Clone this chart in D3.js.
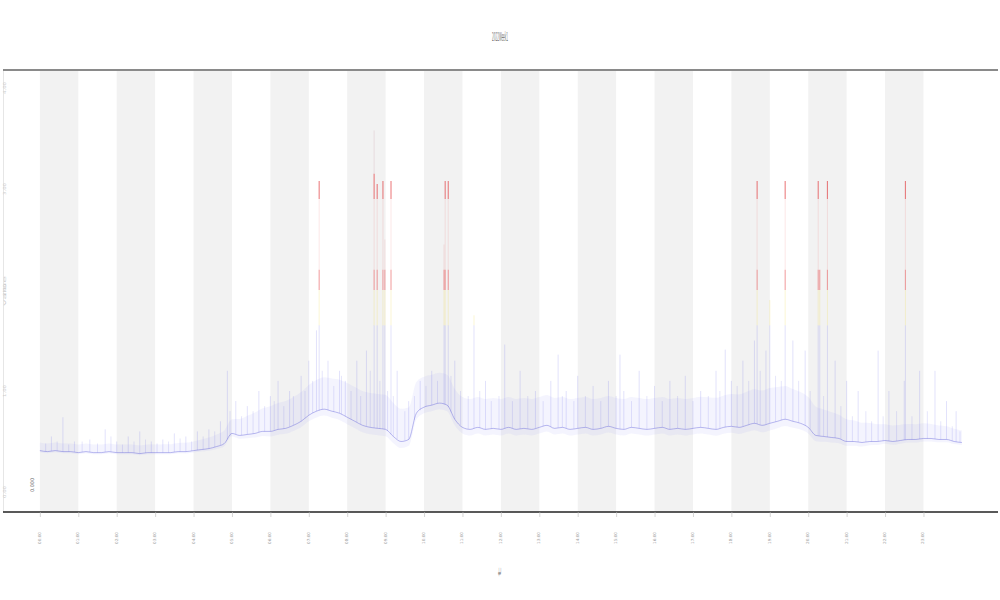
<!DOCTYPE html>
<html><head><meta charset="utf-8">
<script src="https://cdn.jsdelivr.net/npm/d3@7"></script>
<style>body{margin:0;background:#fff;}svg{display:block;}</style>
</head><body>
<script>
// ---- data ----
const titleText = "2022Week1";
const xLabel = "t";
const yLabel = "value";
const xTicks = d3.range(0, 24);
const xTickLabels = xTicks.map(d => String(d).padStart(2, "0") + ":00");
const yTicks = [0, 1, 2, 3, 4];
const bandStarts = [0, 2, 4, 6, 8, 10, 12, 14, 16, 18, 20, 22];
// baseline sampled every 0.2 from 0 to 24
const baseX = d3.range(0, 121).map(i => +(i * 0.2).toFixed(1));
const baseMid = [
  .41,.40,.41,.40,.40,.39,.40,.39,.39,.40,.39,.39,.39,.38,.39,.39,.39,.39,.40,.40,.41,.42,.43,.45,
  .48,.58,.56,.57,.58,.60,.60,.62,.63,.66,.70,.76,.80,.82,.80,.78,.74,.70,.66,.64,.63,.62,.55,.50,.52,.78,
  .84,.86,.88,.86,.72,.64,.62,.64,.62,.63,.62,.64,.62,.63,.62,.64,.66,.63,.64,.62,.63,.64,.62,.63,.65,
  .63,.62,.64,.63,.62,.63,.64,.62,.63,.62,.63,.64,.63,.62,.64,.65,.64,.66,.68,.66,.68,.70,.72,.70,.68,
  .64,.56,.55,.54,.53,.50,.50,.49,.50,.50,.51,.50,.51,.52,.52,.53,.53,.52,.52,.50,.49
];
// fuzz amplitude at each integer x (0..24)
const fuzzAmp = [.08,.08,.08,.08,.09,.14,.25,.30,.34,.34,.30,.30,.30,.30,.30,.30,.30,.30,.32,.35,.30,.22,.16,.15,.12];
// major spikes: x position and top value
const spikeX = [0.3,0.6,0.9,1.3,1.7,2.0,2.3,2.6,2.9,3.2,3.5,3.8,4.1,4.4,4.7,
  4.88,5.1,5.4,5.7,6.0,6.2,6.5,6.8,7.0,7.2,7.27,7.5,7.8,7.95,
  8.25,8.5,8.7,8.78,8.93,8.98,9.14,9.3,9.6,9.9,10.2,10.52,10.55,10.63,10.8,
  11.3,11.6,12.1,12.5,12.9,13.3,13.49,13.7,14.0,14.4,14.8,15.1,15.2,15.6,16.0,16.4,16.8,17.2,17.6,17.84,18.0,
  18.3,18.6,18.67,18.9,19.0,19.4,19.6,19.92,20.26,20.3,20.5,20.7,21.0,21.3,21.82,22.1,22.5,22.53,22.9,23.3,23.6,23.85];
const spikeTop = [.55,.74,.50,.52,.62,.50,.55,.60,.50,.52,.58,.55,.60,.62,.70,
  1.20,.90,.85,1.00,.95,1.10,1.00,1.15,1.30,1.60,3.08,1.30,1.20,1.10,
  1.30,1.40,3.58,3.05,3.08,2.50,3.08,1.20,.90,1.10,1.20,2.45,3.08,3.08,1.30,
  1.75,1.10,1.46,1.20,1.00,1.10,1.36,1.00,1.15,1.05,1.10,1.36,1.00,1.20,1.05,1.10,1.15,1.00,1.20,1.41,1.10,
  1.30,1.50,3.08,1.40,1.90,3.08,1.50,1.40,3.08,2.20,3.08,1.30,1.10,1.00,1.40,1.00,1.10,3.08,1.20,1.20,.90,.80];
// minor spikes
const minorX = [0.15,0.45,0.75,1.1,1.5,1.85,2.15,2.45,2.75,3.05,3.35,3.65,3.95,4.25,4.55,
  4.95,5.25,5.55,5.85,6.1,6.35,6.6,6.9,7.1,7.35,7.65,7.85,
  8.1,8.35,8.6,8.85,9.05,9.2,9.5,9.75,10.05,10.35,10.7,10.95,
  11.15,11.45,11.75,11.95,12.3,12.7,13.1,13.6,13.9,14.2,14.6,15.0,15.4,15.8,16.2,16.6,17.0,17.4,17.7,18.15,18.45,18.75,19.15,19.3,
  19.75,20.05,20.4,20.85,21.15,21.5,21.65,21.95,22.3,22.7,23.1,23.45,23.75,23.95];
const minorTop = [.48,.50,.47,.50,.48,.55,.47,.50,.52,.48,.50,.53,.50,.55,.60,
  .80,.75,.80,.85,.90,.85,.95,1.00,1.10,1.20,1.05,1.15,
  1.00,.95,1.20,1.10,1.00,.95,.80,.95,1.05,1.10,1.15,1.00,
  .95,1.00,.90,.95,.90,.95,.90,.95,.90,.95,.90,.95,.90,.95,.90,.95,.90,.95,1.00,1.05,1.10,1.20,1.15,1.10,
  1.10,1.00,.95,.85,.75,.80,.70,.75,.80,.75,.80,.70,.65,.60];

(function () {
const W = 1000, H = 600;
const pL = 3, pR = 998, pT = 70, pB = 512;
const x = d3.scaleLinear().domain([-0.96, 24.94]).range([pL, pR]);
const y = d3.scaleLinear().domain([(492 - 512) / 101, (492 - 70) / 101]).range([pB, pT]);

const svg = d3.select("body").append("svg").attr("width", W).attr("height", H);

svg.append("g").selectAll("rect").data(bandStarts).join("rect")
  .attr("x", d => x(d)).attr("width", d => x(d + 1) - x(d))
  .attr("y", pT).attr("height", pB - pT).attr("fill", "#f2f2f2");

svg.append("line").attr("x1", pL + 0.5).attr("x2", pL + 0.5).attr("y1", pT).attr("y2", pB)
  .attr("stroke", "#e6e6e6").attr("stroke-width", 1);

const plot = svg.append("g");

const ampAt = xv => {
  const i = Math.min(23, Math.floor(xv));
  const f = xv - i;
  return fuzzAmp[i] * (1 - f) + fuzzAmp[i + 1] * f;
};
const area = d3.area().x(d => x(d.x)).y0(d => y(d.v - ampAt(d.x) * 0.2)).y1(d => y(d.v + ampAt(d.x)))
  .curve(d3.curveMonotoneX);
const baseData = baseX.map((d, i) => ({x: d, v: baseMid[i]}));
plot.append("path").datum(baseData).attr("d", area)
  .attr("fill", "#9a9af2").attr("fill-opacity", 0.11);

// value bands: [upper limit, colour, opacity]
const bands = [
  [1.65, "#6a6ae8", 0.28],
  [2.0, "#f0dc50", 0.35],
  [2.2, "#e8474a", 0.5],
  [2.9, "#e8474a", 0.12],
  [3.15, "#e23a3e", 0.65],
  [9, "#c08090", 0.18]
];
const limits = bands.map(b => b[0]);
const baseAt = xv => {
  const i = Math.min(119, Math.floor(xv / 0.2));
  const f = xv / 0.2 - i;
  return baseMid[i] * (1 - f) + baseMid[i + 1] * f;
};
const segs = [];
const addSpike = (sx, t, w) => {
  const b = baseAt(sx);
  const cuts = [b, ...limits.filter(c => c > b && c < t), t];
  for (let k = 0; k < cuts.length - 1; k++) {
    const lvl = d3.bisectRight(limits, (cuts[k] + cuts[k + 1]) / 2);
    segs.push({x: sx, v0: cuts[k], v1: cuts[k + 1], c: bands[lvl][1], o: bands[lvl][2], w: lvl >= 2 ? 1.1 : w});
  }
};
minorX.forEach((sx, i) => addSpike(sx, minorTop[i], 0.6));
spikeX.forEach((sx, i) => addSpike(sx, spikeTop[i], 0.7));
plot.append("g").selectAll("line").data(segs).join("line")
  .attr("x1", d => x(d.x)).attr("x2", d => x(d.x))
  .attr("y1", d => y(d.v0)).attr("y2", d => y(d.v1))
  .attr("stroke", d => d.c).attr("stroke-opacity", d => d.o)
  .attr("stroke-width", d => d.w);

plot.append("path").datum(baseData)
  .attr("d", d3.line().x(d => x(d.x)).y(d => y(d.v)).curve(d3.curveMonotoneX))
  .attr("fill", "none").attr("stroke", "#5a5ad8").attr("stroke-opacity", 0.45).attr("stroke-width", 0.9);

svg.append("line").attr("x1", pL).attr("x2", pR).attr("y1", pT).attr("y2", pT)
  .attr("stroke", "#8a8a8a").attr("stroke-width", 2);
svg.append("line").attr("x1", pL).attr("x2", pR).attr("y1", pB).attr("y2", pB)
  .attr("stroke", "#222").attr("stroke-width", 1.5);

const xAxis = svg.append("g").attr("transform", `translate(0,${pB})`)
  .call(d3.axisBottom(x).tickValues(xTicks).tickSize(5).tickFormat(""));
xAxis.select(".domain").remove();
xAxis.selectAll(".tick line").attr("stroke", "#bbb").attr("stroke-width", 0.6);
svg.append("g").selectAll("text").data(xTicks).join("text")
  .attr("transform", d => `translate(${x(d) + 1},538) rotate(-90)`)
  .attr("text-anchor", "middle").attr("font-family", "DejaVu Sans").attr("font-size", 4)
  .attr("textLength", 12).attr("lengthAdjust", "spacingAndGlyphs")
  .attr("fill", "#999").text((d, i) => xTickLabels[i]);

svg.append("g").selectAll("text").data(yTicks).join("text")
  .attr("transform", d => `translate(6,${y(d)}) rotate(-90)`)
  .attr("text-anchor", "middle").attr("font-family", "DejaVu Sans").attr("font-size", 4)
  .attr("textLength", 12).attr("lengthAdjust", "spacingAndGlyphs")
  .attr("fill", "#ccc").text(d => d.toFixed(2));
svg.append("text").attr("transform", `translate(6,${(pT + pB) / 2}) rotate(-90)`)
  .attr("text-anchor", "middle").attr("font-family", "DejaVu Sans").attr("font-size", 4)
  .attr("textLength", 30).attr("lengthAdjust", "spacingAndGlyphs")
  .attr("fill", "#ccc").text(yLabel);

svg.append("text").attr("transform", `translate(34,485) rotate(-90)`)
  .attr("text-anchor", "middle").attr("font-family", "DejaVu Sans").attr("font-size", 5)
  .attr("textLength", 14).attr("lengthAdjust", "spacingAndGlyphs")
  .attr("fill", "#666").text("0.000");

svg.append("text").attr("x", 500).attr("y", 41).attr("text-anchor", "middle")
  .attr("font-family", "DejaVu Sans Condensed").attr("font-size", 13)
  .attr("textLength", 16).attr("lengthAdjust", "spacingAndGlyphs")
  .attr("fill", "#777").text(titleText);
svg.append("text").attr("transform", `translate(501,572) rotate(-90)`)
  .attr("text-anchor", "middle").attr("font-family", "DejaVu Sans").attr("font-size", 4)
  .attr("textLength", 10).attr("lengthAdjust", "spacingAndGlyphs")
  .attr("fill", "#999").text(xLabel);
})();
</script>
</body></html>
